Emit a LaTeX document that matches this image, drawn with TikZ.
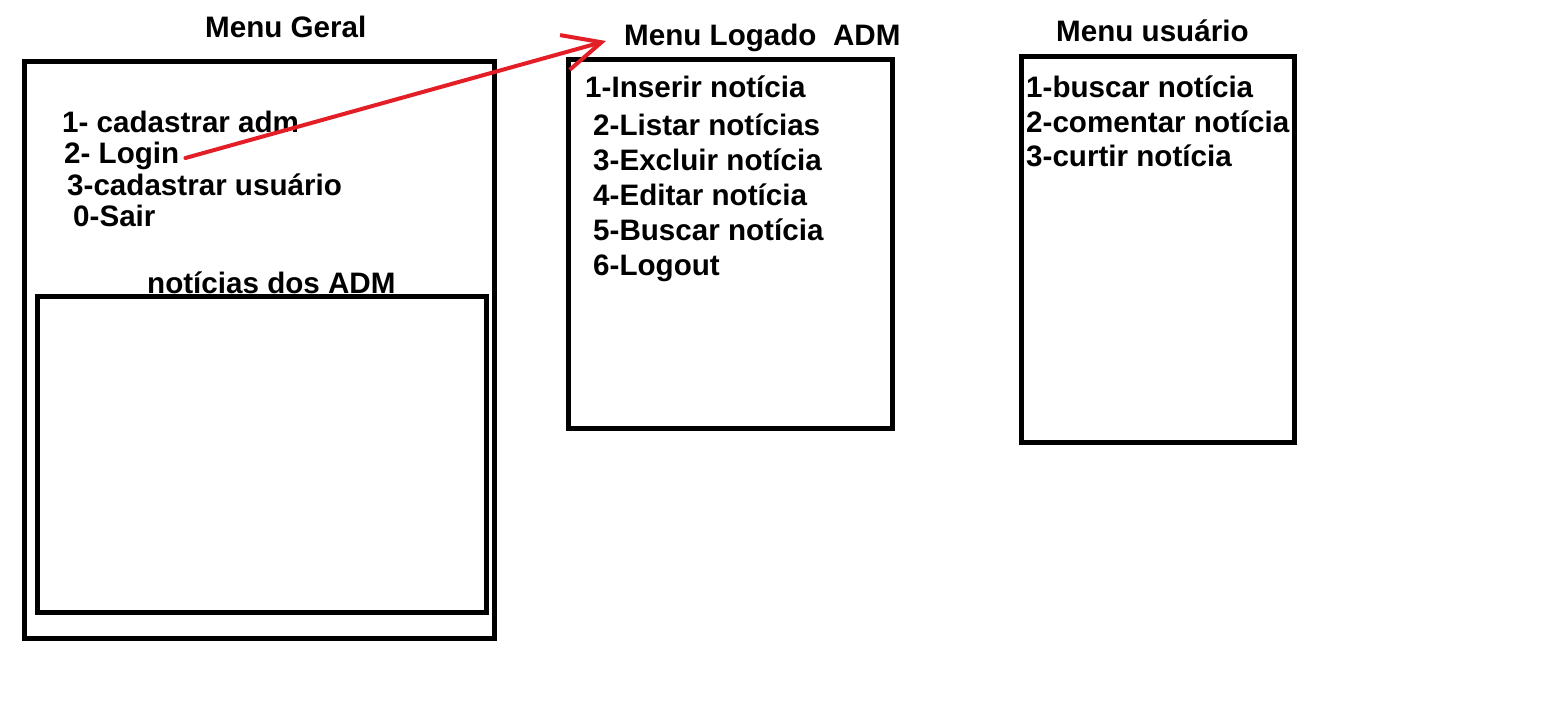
\documentclass[tikz,border=0pt]{standalone}
\usepackage{fontspec}
\setmainfont{Liberation Sans}
\usetikzlibrary{arrows.meta}
\begin{document}
\begin{tikzpicture}[x=1pt, y=-1pt,
    menubox/.style={line width=5pt},
    item/.style={anchor=base west, inner sep=0pt, font=\fontsize{29.6}{35}\selectfont\bfseries},
    loginarrow/.style={line width=4pt, draw={rgb,255:red,228;green,30;blue,38}, line cap=round,
        -{Straight Barb[length=38pt, width=36pt, line width=4pt]}}]
    \useasboundingbox (0,0) rectangle (1544,718);

    \begin{scope}
        \draw[menubox] (24,61.5) rectangle (494,638.5);
        \draw[menubox] (37.5,296.5) rectangle (486.5,612.5);
        \node[item] (geral) at (205,37) {Menu Geral};
        \node[item] (cadadm) at (62,132) {1- cadastrar adm};
        \node[item] (login) at (64,163) {2- Login};
        \node[item] (caduser) at (67,195) {3-cadastrar usuário};
        \node[item] (sair) at (73,226) {0-Sair};
        \node[item] (noticias) at (147,293) {notícias dos ADM};
    \end{scope}

    \begin{scope}
        \draw[menubox] (568.5,59) rectangle (892.5,428.5);
        \node[item] (logado) at (624,45) {Menu Logado\ \ ADM};
        \node[item] (inserir) at (585,97) {1-Inserir notícia};
        \node[item] (listar) at (593,135) {2-Listar notícias};
        \node[item] (excluir) at (593,170) {3-Excluir notícia};
        \node[item] (editar) at (593,205) {4-Editar notícia};
        \node[item] (buscar) at (593,240) {5-Buscar notícia};
        \node[item] (logout) at (593,275) {6-Logout};
    \end{scope}

    \begin{scope}
        \draw[menubox] (1021.5,56) rectangle (1294.5,442.5);
        \node[item] (usuario) at (1056,41) {Menu usuário};
        \node[item] (ubuscar) at (1026,97) {1-buscar notícia};
        \node[item] (comentar) at (1026,132) {2-comentar notícia};
        \node[item] (curtir) at (1026,166) {3-curtir notícia};
    \end{scope}

    \draw[loginarrow] ([xshift=6pt, yshift=5pt]login.base east) -- ([xshift=-18pt, yshift=4pt]logado.base west);
\end{tikzpicture}
\end{document}
